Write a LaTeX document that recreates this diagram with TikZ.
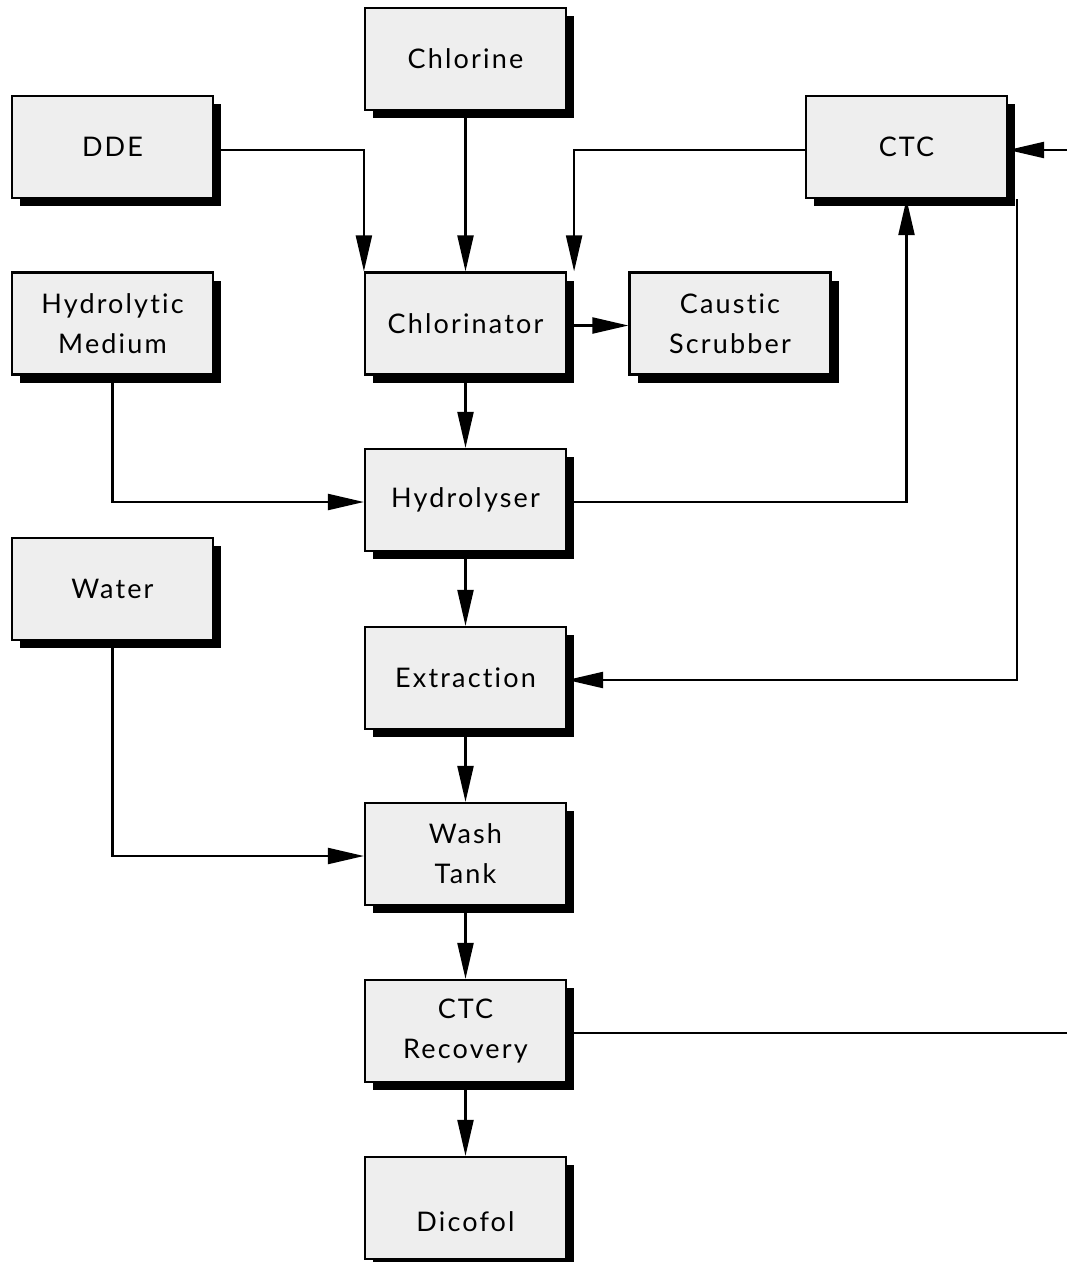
\documentclass[tikz,border=0pt]{standalone}
\usepackage{fontspec}
\setmainfont{Lato}[LetterSpace=8,Ligatures=NoCommon]
\usetikzlibrary{shadows,arrows.meta,calc}
\definecolor{boxfill}{RGB}{238,238,238}
\begin{document}
\begin{tikzpicture}[x=1pt,y=-1pt,
  blk/.style={draw=black,line width=2.2pt,fill=boxfill,minimum width=201pt,minimum height=102pt,inner sep=0pt,
    align=center,font=\fontsize{27}{40}\selectfont,
    drop shadow={shadow xshift=8pt,shadow yshift=-8pt,opacity=1,fill=black}},
  conn/.style={line width=2.2pt,-{Triangle[length=36pt,width=16pt]}},
  plain/.style={line width=2.2pt}]
\useasboundingbox (0,0) rectangle (1067,1262);
\node[blk] (chlorine) at (465.5,59) {Chlorine};
\node[blk] (dde) at (112.5,147) {DDE};
\node[blk] (ctc) at (906.5,147) {CTC};
\node[blk] (hm) at (112.5,323.5) {Hydrolytic\\Medium};
\node[blk] (chl) at (465.5,323.5) {Chlorinator};
\node[blk] (cs) at (730,323.5) {Caustic\\Scrubber};
\node[blk] (hyd) at (465.5,500) {Hydrolyser};
\node[blk] (water) at (112.5,589) {Water};
\node[blk] (ext) at (465.5,678) {Extraction};
\node[blk] (wash) at (465.5,854) {Wash\\Tank};
\node[blk] (rec) at (465.5,1031) {CTC\\Recovery};
\node[blk] (dic) at (465.5,1208) {};
\node[font=\fontsize{27}{40}\selectfont,inner sep=0pt] (dict) at (465.5,1222) {Dicofol};
\coordinate (rin) at (1067,150);
\coordinate (rout) at (1067,1033);

\draw[conn] ([yshift=-3pt]dde.east) -| (chl.north west);
\draw[conn] (chlorine.south) -- (chl.north);
\draw[conn] ([yshift=-3pt]ctc.west) -| ([xshift=7pt]chl.north east);
\draw[conn] ([yshift=-2pt]chl.east) -- ([yshift=-2pt]cs.west);
\draw[conn] (chl.south) -- (hyd.north);
\draw[conn] (hm.south) |- ([yshift=-2pt]hyd.west);
\draw[conn] ([yshift=-2pt]hyd.east) -| (ctc.south);
\draw[conn] (hyd.south) -- (ext.north);
\draw[conn] ([xshift=9pt]ctc.south east) |- ([yshift=-2pt]ext.east);
\draw[conn] (ext.south) -- (wash.north);
\draw[conn] (water.south) |- ([yshift=-2pt]wash.west);
\draw[conn] (wash.south) -- (rec.north);
\draw[conn] (rec.south) -- (dic.north);
\draw[conn] (rin) -- (rin -| ctc.east);
\draw[plain] ([yshift=-2pt]rec.east) -- (rout);
\end{tikzpicture}
\end{document}
